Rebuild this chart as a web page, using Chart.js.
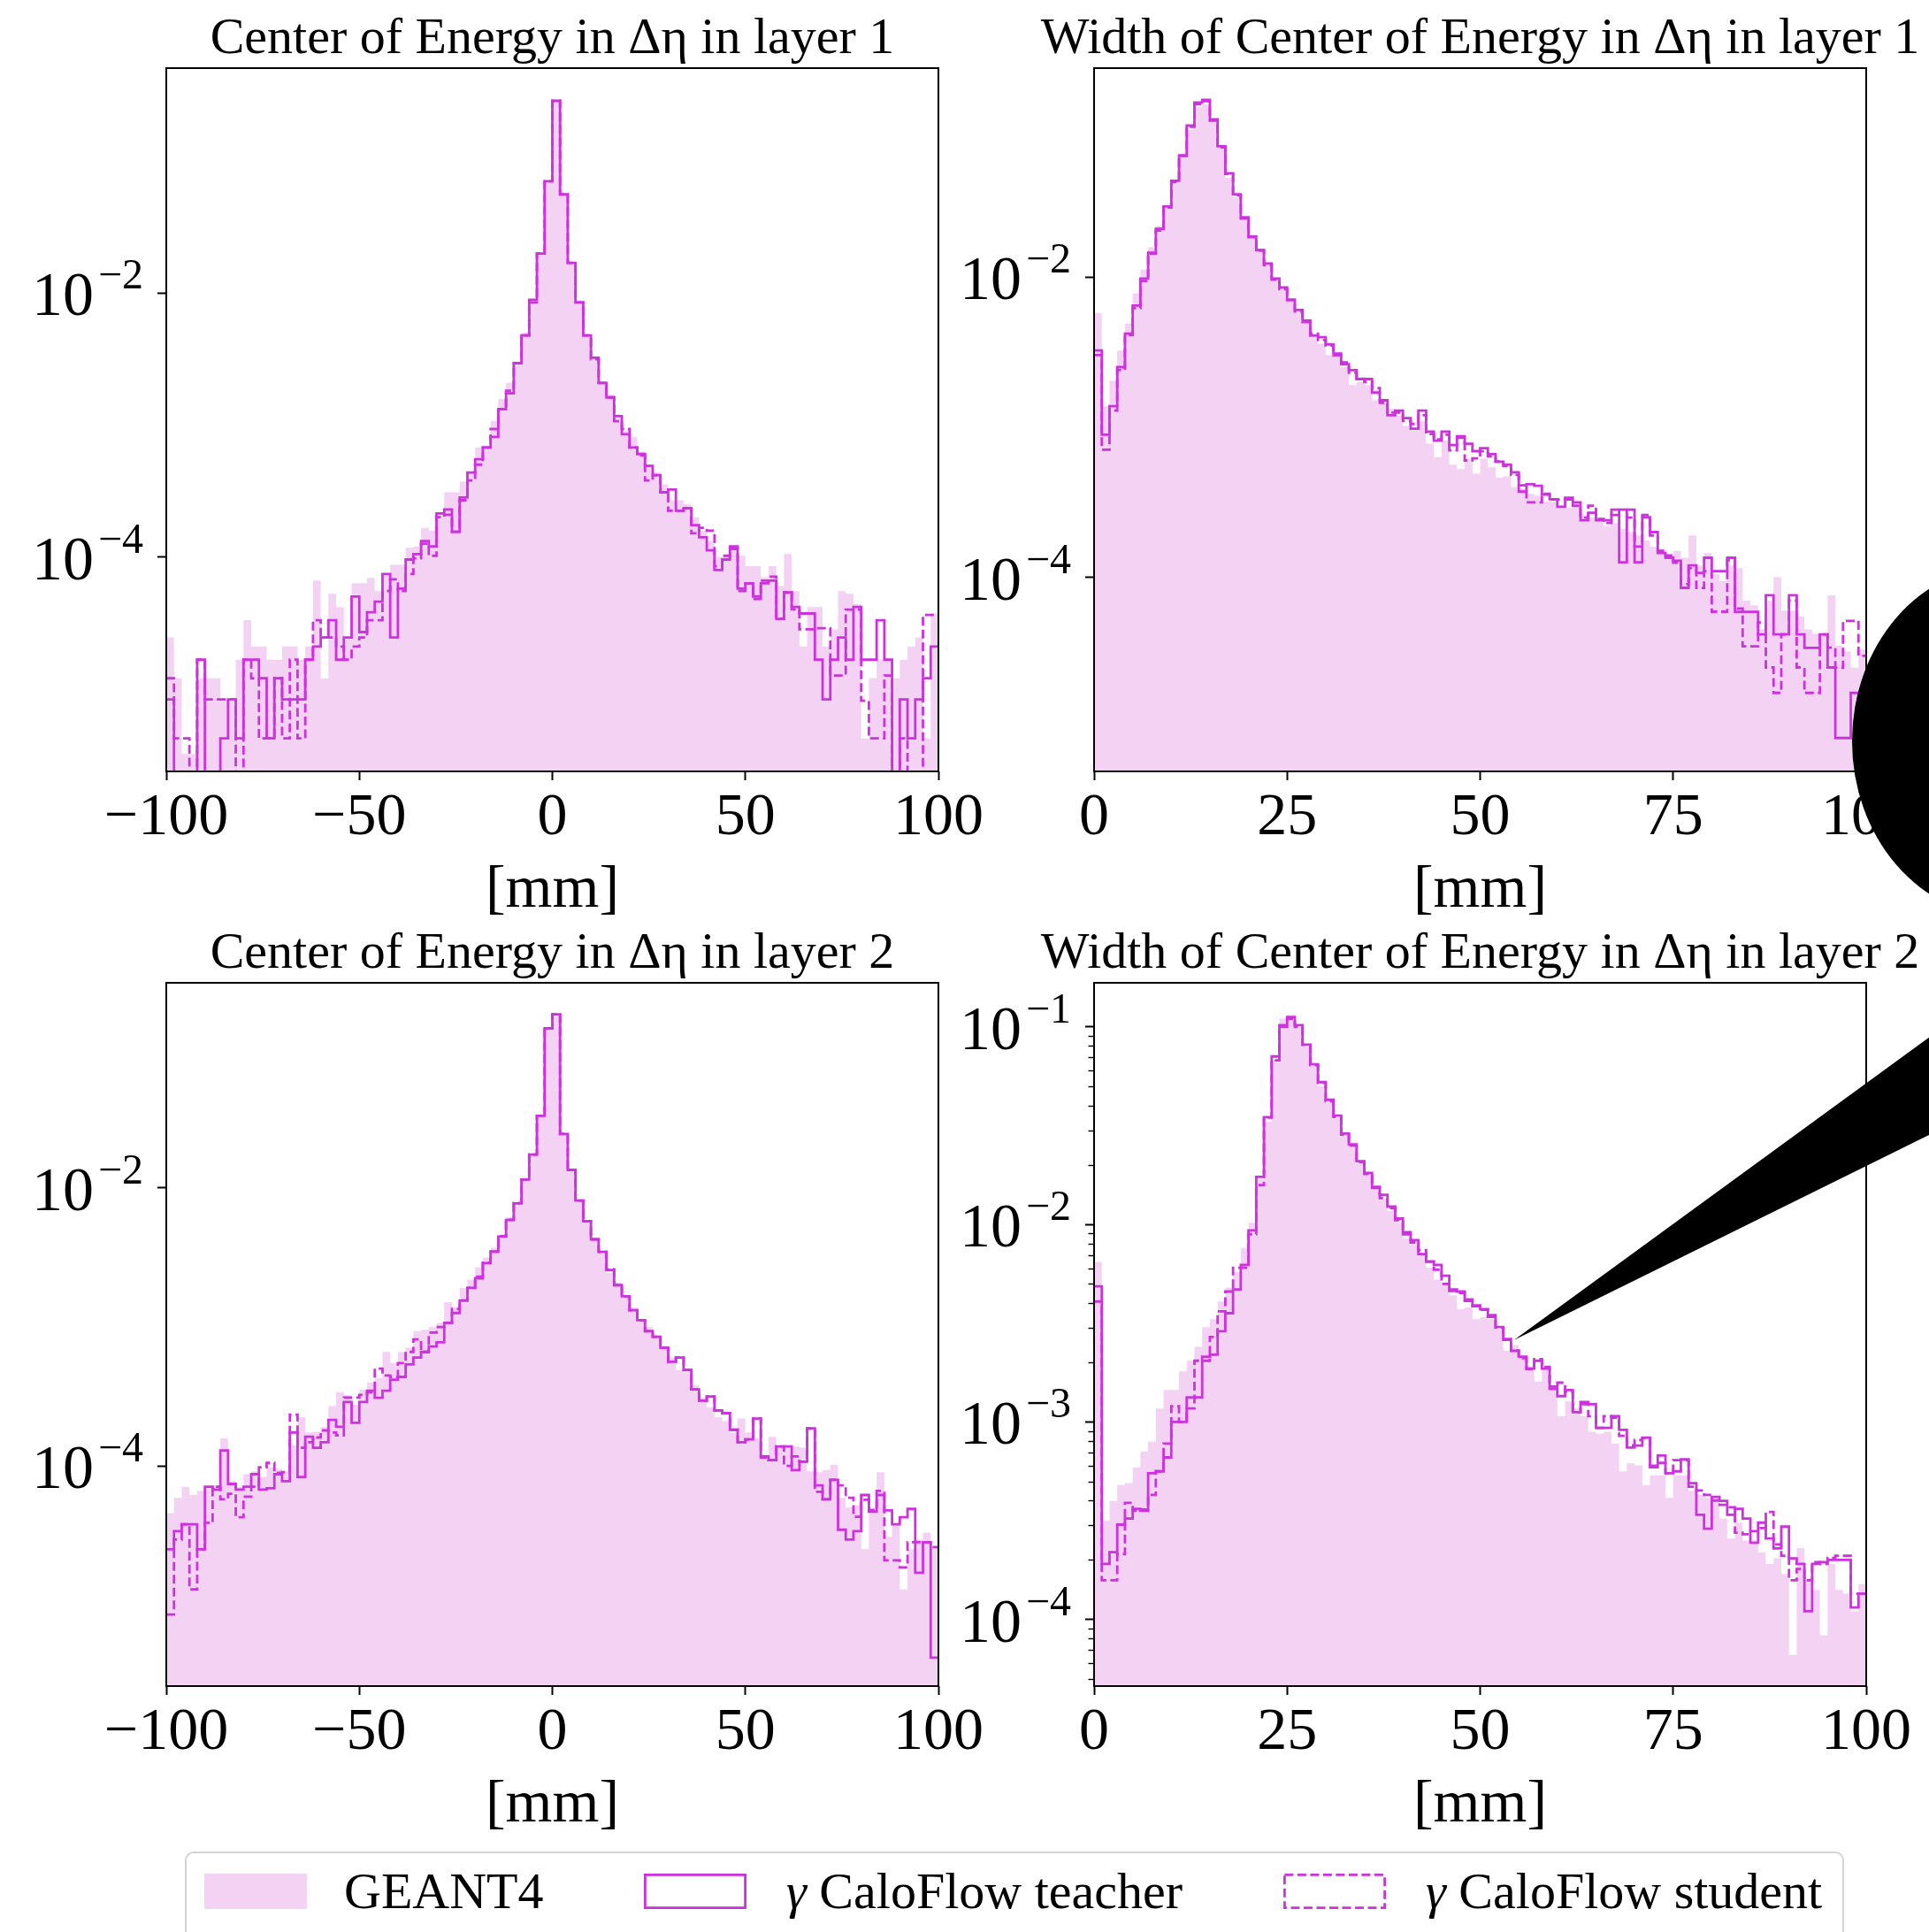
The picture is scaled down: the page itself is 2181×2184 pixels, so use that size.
<!DOCTYPE html>
<html>
<head>
<meta charset="utf-8">
<script src="https://cdn.jsdelivr.net/npm/chart.js@4.4.1/dist/chart.umd.min.js"></script>
<style>
  html, body { margin: 0; padding: 0; background: #fff; width: 2181px; height: 2184px; overflow: hidden; }
  canvas.panel { position: absolute; }
  #overlay { position: absolute; left: 0; top: 0; pointer-events: none; }
  #legend { position: absolute; left: 209px; top: 2093px; width: 1876px; height: 140px;
            border: 2px solid #d4d4d4; border-radius: 10px; box-sizing: border-box; background: #fff; }
  .ltext { position: absolute; font-family: 'Liberation Serif', 'Times New Roman', serif; font-size: 58px;
           line-height: 58px; white-space: nowrap; color: #000; }
  .lpatch { position: absolute; }
</style>
</head>
<body>
<canvas id="c1" class="panel"></canvas>
<canvas id="c2" class="panel"></canvas>
<canvas id="c3" class="panel"></canvas>
<canvas id="c4" class="panel"></canvas>
<div id="legend"></div>
<canvas id="overlay" width="2181" height="2184"></canvas>
<script>
// ---------------- data ----------------
const centerRange = [-100, 100];   // [mm], 100 bins
const widthRange = [0, 100];       // [mm], 100 bins
const nBins = 100;
const seriesNames = ['GEANT4', '\u03b3 CaloFlow teacher', '\u03b3 CaloFlow student'];
const panelTitles = [
  'Center of Energy in \u0394\u03b7 in layer 1',
  'Width of Center of Energy in \u0394\u03b7 in layer 1',
  'Center of Energy in \u0394\u03b7 in layer 2',
  'Width of Center of Energy in \u0394\u03b7 in layer 2'
];
const xAxisTitle = '[mm]';
const centerTicks = [-100, -50, 0, 50, 100];
const widthTicks = [0, 25, 50, 75, 100];
const majorsTwoDecades = [1e-4, 1e-2];
const majorsAllDecades = [1e-4, 1e-3, 1e-2, 1e-1];

// Center of Energy, layer 1
const coe1Geant4 = [
  2.45e-5, 1.2e-5, 3.2e-6, 3.2e-6, 1.2e-5, 1.2e-5, 1.2e-5, 8.3e-6, 8.3e-6, 1.66e-5,
  3.31e-5, 2.09e-5, 2.09e-5, 1.66e-5, 1.66e-5, 2.09e-5, 2.09e-5, 1.66e-5, 2.09e-5, 6.61e-5,
  1.2e-5, 5.25e-5, 4.17e-5, 2.45e-5, 6.31e-5, 6.31e-5, 6.92e-5, 5.5e-5, 7.41e-5, 8.71e-5,
  8.71e-5, 1.17e-4, 1.2e-4, 1.66e-4, 1.58e-4, 2.14e-4, 3.09e-4, 3.09e-4, 3.72e-4, 4.37e-4,
  6.76e-4, 6.76e-4, 1.07e-3, 1.58e-3, 2.09e-3, 2.95e-3, 5.01e-3, 8.91e-3, 2.0e-2, 7.08e-2,
  0.288, 5.62e-2, 1.70e-2, 8.51e-3, 4.79e-3, 3.24e-3, 2.09e-3, 1.7e-3, 1.2e-3, 9.0e-4,
  8.13e-4, 6.3e-4, 5.0e-4, 4.37e-4, 3.55e-4, 2.69e-4, 2.69e-4, 2.5e-4, 2.0e-4, 1.58e-4,
  1.32e-4, 1.0e-4, 1.02e-4, 1.2e-4, 1.02e-4, 8.51e-5, 8.51e-5, 7.0e-5, 8.51e-5, 6.0e-5,
  1.05e-4, 5.5e-5, 2.09e-5, 4.17e-5, 4.17e-5, 2.09e-5, 2.82e-5, 5.5e-5, 5.25e-5, 4.37e-5,
  4.2e-6, 1.2e-5, 1.66e-5, 1.66e-5, 1.2e-5, 1.66e-5, 2.09e-5, 2.45e-5, 4.2e-6, 3.72e-5
];
const coe1Teacher = [
  8.3e-6, 0, 0, 0, 1.66e-5, 0, 0, 4.2e-6, 8.3e-6, 4.2e-6,
  1.66e-5, 1.66e-5, 1.2e-5, 4.2e-6, 1.2e-5, 8.3e-6, 8.3e-6, 8.3e-6, 1.66e-5, 2.09e-5,
  2.45e-5, 3.31e-5, 1.66e-5, 2.45e-5, 5.0e-5, 2.69e-5, 3.8e-5, 4.57e-5, 7.41e-5, 2.45e-5,
  5.75e-5, 9.55e-5, 1.05e-4, 1.32e-4, 1.2e-4, 2.14e-4, 2.29e-4, 1.55e-4, 2.82e-4, 4.37e-4,
  5.5e-4, 6.76e-4, 8.13e-4, 1.32e-3, 1.74e-3, 2.95e-3, 4.79e-3, 8.91e-3, 2.0e-2, 7.08e-2,
  0.288, 5.62e-2, 1.70e-2, 8.51e-3, 4.79e-3, 3.24e-3, 2.09e-3, 1.62e-3, 1.17e-3, 8.51e-4,
  6.76e-4, 6.03e-4, 4.9e-4, 4.17e-4, 3.09e-4, 3.24e-4, 2.24e-4, 2.34e-4, 1.74e-4, 1.41e-4,
  1.12e-4, 7.94e-5, 9.55e-5, 1.2e-4, 5.75e-5, 6.31e-5, 5.01e-5, 6.31e-5, 6.61e-5, 3.39e-5,
  5.37e-5, 4.17e-5, 3.72e-5, 3.72e-5, 1.66e-5, 8.3e-6, 1.66e-5, 2.45e-5, 1.66e-5, 4.17e-5,
  1.66e-5, 1.66e-5, 3.31e-5, 1.66e-5, 0, 8.3e-6, 4.2e-6, 8.3e-6, 1.2e-5, 2.09e-5
];
const coe1Student = [
  1.2e-5, 4.2e-6, 4.2e-6, 0, 1.66e-5, 8.3e-6, 8.3e-6, 8.3e-6, 8.3e-6, 0,
  1.66e-5, 1.2e-5, 4.2e-6, 4.2e-6, 1.2e-5, 4.2e-6, 1.66e-5, 4.2e-6, 1.66e-5, 3.31e-5,
  2.45e-5, 2.45e-5, 2.09e-5, 1.66e-5, 2.09e-5, 2.45e-5, 3.31e-5, 3.31e-5, 5.5e-5, 6.76e-5,
  5.5e-5, 7.41e-5, 9.77e-5, 1.26e-4, 1.02e-4, 2.0e-4, 2.09e-4, 1.55e-4, 2.69e-4, 3.8e-4,
  5.01e-4, 6.76e-4, 9.33e-4, 1.32e-3, 1.82e-3, 2.95e-3, 4.79e-3, 8.51e-3, 2.0e-2, 7.08e-2,
  0.288, 5.62e-2, 1.70e-2, 8.51e-3, 4.79e-3, 3.16e-3, 2.09e-3, 1.62e-3, 1.07e-3, 9.33e-4,
  6.76e-4, 5.89e-4, 3.8e-4, 4.17e-4, 3.09e-4, 2.24e-4, 2.24e-4, 2.34e-4, 1.51e-4, 1.66e-4,
  1.58e-4, 8.5e-5, 1.02e-4, 1.15e-4, 5.5e-5, 6.3e-5, 4.8e-5, 6.6e-5, 7.08e-5, 3.39e-5,
  5.37e-5, 4.0e-5, 2.82e-5, 2.82e-5, 2.88e-5, 2.88e-5, 1.26e-5, 1.26e-5, 3.98e-5, 3.98e-5,
  8.1e-6, 4.2e-6, 4.2e-6, 1.26e-5, 0, 4.2e-6, 0, 0, 3.63e-5, 3.63e-5
];

// Width of Center of Energy, layer 1
const wid1Geant4 = [
  5.75e-3, 1.38e-3, 2.04e-3, 3.24e-3, 4.9e-3, 7.76e-3, 1.12e-2, 1.58e-2, 2.19e-2, 2.95e-2,
  4.37e-2, 6.46e-2, 9.55e-2, 0.136, 0.141, 0.112, 7.24e-2, 4.57e-2, 3.39e-2, 2.4e-2,
  1.82e-2, 1.5e-2, 1.2e-2, 9.5e-3, 8.3e-3, 6.9e-3, 5.9e-3, 4.9e-3, 3.9e-3, 3.6e-3,
  3.02e-3, 2.9e-3, 2.5e-3, 1.91e-3, 2.0e-3, 1.9e-3, 1.51e-3, 1.45e-3, 1.33e-3, 1.2e-3,
  1.02e-3, 9.5e-4, 1.1e-3, 7.76e-4, 6.31e-4, 8.13e-4, 5.62e-4, 5.25e-4, 6.17e-4, 4.9e-4,
  6.17e-4, 5.4e-4, 4.6e-4, 4.7e-4, 4.0e-4, 3.9e-4, 3.6e-4, 3.5e-4, 3.2e-4, 3.2e-4,
  3.0e-4, 2.9e-4, 3.0e-4, 2.6e-4, 2.5e-4, 2.4e-4, 2.2e-4, 2.3e-4, 2.1e-4, 2.0e-4,
  1.9e-4, 1.75e-4, 1.6e-4, 1.55e-4, 1.4e-4, 1.5e-4, 1.35e-4, 1.9e-4, 1.2e-4, 1.45e-4,
  1.05e-4, 9.5e-5, 1.2e-4, 1.15e-4, 7.0e-5, 6.5e-5, 4.5e-5, 7.0e-5, 1.0e-4, 6.0e-5,
  6.0e-5, 5.5e-5, 4.5e-5, 4.2e-5, 4.2e-5, 7.59e-5, 3.5e-5, 3.2e-5, 2.5e-5, 3.3e-5
];
const wid1Teacher = [
  3.24e-3, 8.91e-4, 1.38e-3, 2.51e-3, 4.2e-3, 6.46e-3, 9.77e-3, 1.45e-2, 2.09e-2, 2.95e-2,
  4.37e-2, 6.46e-2, 0.102, 0.145, 0.151, 0.112, 7.41e-2, 4.9e-2, 3.55e-2, 2.45e-2,
  1.86e-2, 1.51e-2, 1.23e-2, 9.77e-3, 8.51e-3, 7.08e-3, 6.03e-3, 5.13e-3, 4.07e-3, 3.98e-3,
  3.55e-3, 3.09e-3, 2.63e-3, 2.4e-3, 2.09e-3, 2.09e-3, 1.7e-3, 1.51e-3, 1.2e-3, 1.29e-3,
  1.15e-3, 9.77e-4, 1.29e-3, 9.33e-4, 8.13e-4, 9.33e-4, 7.59e-4, 8.71e-4, 7.76e-4, 6.92e-4,
  7.24e-4, 6.61e-4, 5.89e-4, 5.62e-4, 5.01e-4, 3.72e-4, 4.17e-4, 4.07e-4, 3.55e-4, 3.31e-4,
  2.95e-4, 3.39e-4, 3.16e-4, 2.4e-4, 2.69e-4, 2.4e-4, 2.4e-4, 2.82e-4, 1.26e-4, 2.82e-4,
  1.26e-4, 2.51e-4, 2.0e-4, 1.45e-4, 1.35e-4, 1.29e-4, 8.51e-5, 1.2e-4, 1.07e-4, 1.35e-4,
  1.1e-4, 1.1e-4, 1.35e-4, 5.89e-5, 5.89e-5, 5.89e-5, 4.17e-5, 7.59e-5, 4.17e-5, 4.17e-5,
  7.59e-5, 4.17e-5, 3.39e-5, 3.39e-5, 4.17e-5, 2.51e-5, 8.51e-6, 8.51e-6, 1.7e-5, 8.51e-6
];
const wid1Student = [
  3.02e-3, 7.08e-4, 1.29e-3, 2.4e-3, 4.1e-3, 6.2e-3, 9.4e-3, 1.43e-2, 2.04e-2, 2.9e-2,
  4.3e-2, 6.4e-2, 0.1, 0.142, 0.148, 0.11, 7.3e-2, 4.85e-2, 3.5e-2, 2.5e-2,
  1.84e-2, 1.5e-2, 1.2e-2, 9.6e-3, 8.3e-3, 7.0e-3, 5.9e-3, 5.0e-3, 4.2e-3, 3.8e-3,
  3.5e-3, 3.0e-3, 2.7e-3, 2.3e-3, 2.1e-3, 2.0e-3, 1.82e-3, 1.45e-3, 1.25e-3, 1.25e-3,
  1.1e-3, 1.05e-3, 1.2e-3, 9.0e-4, 8.3e-4, 8.9e-4, 7.0e-4, 8.5e-4, 6.0e-4, 6.2e-4,
  6.9e-4, 6.4e-4, 5.9e-4, 5.5e-4, 4.8e-4, 4.1e-4, 3.16e-4, 3.16e-4, 3.6e-4, 3.3e-4,
  3.3e-4, 3.3e-4, 3.0e-4, 2.5e-4, 3.0e-4, 2.45e-4, 2.3e-4, 2.6e-4, 2.82e-4, 2.5e-4,
  1.6e-4, 2.6e-4, 1.9e-4, 1.5e-4, 1.4e-4, 1.25e-4, 9.0e-5, 1.15e-4, 8.5e-5, 1.1e-4,
  5.9e-5, 5.9e-5, 1.3e-4, 6.2e-5, 3.47e-5, 3.47e-5, 5.0e-5, 2.51e-5, 1.7e-5, 4.17e-5,
  7.0e-5, 2.51e-5, 1.7e-5, 1.7e-5, 4.17e-5, 3.4e-5, 2.5e-5, 5.13e-5, 5.13e-5, 3.0e-5
];

// Center of Energy, layer 2
const coe2Geant4 = [
  4.57e-5, 5.89e-5, 7.08e-5, 6.17e-5, 6.61e-5, 7.08e-5, 7.24e-5, 1.58e-4, 7.76e-5, 7.08e-5,
  8.71e-5, 9.12e-5, 8.32e-5, 9.77e-5, 9.5e-5, 9.12e-5, 1.41e-4, 2.24e-4, 1.74e-4, 1.76e-4,
  1.91e-4, 2.69e-4, 3.39e-4, 3.24e-4, 2.75e-4, 3.55e-4, 3.98e-4, 4.27e-4, 6.61e-4, 5.5e-4,
  6.61e-4, 7.08e-4, 9.33e-4, 9.55e-4, 1.0e-3, 1.07e-3, 1.51e-3, 1.38e-3, 1.91e-3, 2.19e-3,
  2.69e-3, 3.16e-3, 3.72e-3, 4.37e-3, 6.17e-3, 7.9e-3, 1.16e-2, 1.74e-2, 3.31e-2, 0.141,
  0.178, 2.45e-2, 1.35e-2, 8.2e-3, 5.8e-3, 4.3e-3, 3.5e-3, 2.45e-3, 2.09e-3, 1.63e-3,
  1.38e-3, 1.1e-3, 1.0e-3, 8.71e-4, 7.08e-4, 6.03e-4, 4.9e-4, 4.8e-4, 3.8e-4, 3.09e-4,
  2.63e-4, 2.24e-4, 2.1e-4, 1.74e-4, 2.19e-4, 1.74e-4, 1.58e-4, 1.2e-4, 1.62e-4, 1.38e-4,
  1.41e-4, 1.38e-4, 1.35e-4, 9.12e-5, 9.0e-5, 9.3e-5, 1.02e-4, 5.89e-5, 5.01e-5, 5.2e-5,
  2.51e-5, 5.01e-5, 9.0e-5, 3.09e-5, 3.8e-5, 1.29e-5, 2.51e-5, 2.95e-5, 3.31e-5, 2.63e-5
];
const coe2Teacher = [
  2.51e-5, 3.39e-5, 3.8e-5, 3.8e-5, 2.51e-5, 7.08e-5, 6.76e-5, 1.29e-4, 7.41e-5, 6.76e-5,
  7.08e-5, 8.71e-5, 6.76e-5, 6.9e-5, 8.71e-5, 7.76e-5, 1.74e-4, 8.32e-5, 1.62e-4, 1.35e-4,
  1.48e-4, 2.14e-4, 1.91e-4, 2.88e-4, 2.04e-4, 2.88e-4, 3.47e-4, 3.09e-4, 3.47e-4, 4.17e-4,
  4.37e-4, 5.37e-4, 6.03e-4, 6.61e-4, 7.24e-4, 7.76e-4, 1.07e-3, 1.26e-3, 1.55e-3, 1.91e-3,
  2.24e-3, 2.88e-3, 3.47e-3, 4.47e-3, 5.89e-3, 7.76e-3, 1.15e-2, 1.74e-2, 3.31e-2, 0.141,
  0.178, 2.45e-2, 1.35e-2, 8.13e-3, 5.75e-3, 4.27e-3, 3.47e-3, 2.57e-3, 2.0e-3, 1.66e-3,
  1.32e-3, 1.12e-3, 9.33e-4, 8.51e-4, 7.08e-4, 5.62e-4, 6.03e-4, 4.9e-4, 3.55e-4, 2.95e-4,
  3.16e-4, 2.51e-4, 2.4e-4, 1.82e-4, 1.48e-4, 1.55e-4, 2.19e-4, 1.17e-4, 1.1e-4, 1.38e-4,
  1.38e-4, 9.33e-5, 1.07e-4, 1.86e-4, 7.24e-5, 5.75e-5, 7.94e-5, 3.47e-5, 2.95e-5, 3.39e-5,
  6.17e-5, 4.68e-5, 6.17e-5, 4.79e-5, 3.8e-5, 4.27e-5, 4.9e-5, 1.7e-5, 2.82e-5, 4.17e-6
];
const coe2Student = [
  8.51e-6, 2.95e-5, 3.8e-5, 1.29e-5, 2.51e-5, 3.89e-5, 7.08e-5, 5.75e-5, 6.3e-5, 4.27e-5,
  6.0e-5, 7.08e-5, 9.77e-5, 1.05e-4, 8.9e-5, 9.0e-5, 2.34e-4, 1.35e-4, 1.48e-4, 1.6e-4,
  1.8e-4, 1.74e-4, 1.66e-4, 3.1e-4, 3.1e-4, 3.24e-4, 3.39e-4, 5.01e-4, 4.47e-4, 4.37e-4,
  5.5e-4, 6.61e-4, 8.13e-4, 6.61e-4, 9.1e-4, 1.0e-3, 1.07e-3, 1.35e-3, 1.55e-3, 1.91e-3,
  2.3e-3, 2.9e-3, 3.5e-3, 4.5e-3, 5.9e-3, 7.8e-3, 1.15e-2, 1.74e-2, 3.31e-2, 0.141,
  0.178, 2.45e-2, 1.35e-2, 8.13e-3, 5.75e-3, 4.27e-3, 3.47e-3, 2.6e-3, 2.0e-3, 1.66e-3,
  1.32e-3, 1.12e-3, 9.33e-4, 8.51e-4, 7.08e-4, 5.62e-4, 6.03e-4, 4.9e-4, 3.55e-4, 2.95e-4,
  3.16e-4, 2.51e-4, 2.4e-4, 1.82e-4, 1.48e-4, 1.55e-4, 2.19e-4, 1.15e-4, 1.1e-4, 1.38e-4,
  1.0e-4, 1.17e-4, 1.07e-4, 1.86e-4, 6.5e-5, 5.75e-5, 7.94e-5, 7.24e-5, 5.9e-5, 4.3e-5,
  5.7e-5, 4.8e-5, 6.6e-5, 2.09e-5, 2.09e-5, 1.86e-5, 2.82e-5, 2.82e-5, 2.82e-5, 2.6e-5
];

// Width of Center of Energy, layer 2
const wid2Geant4 = [
  6.46e-3, 3.16e-4, 3.98e-4, 4.79e-4, 4.9e-4, 5.89e-4, 7.08e-4, 7.94e-4, 1.17e-3, 1.45e-3,
  1.45e-3, 1.8e-3, 2.04e-3, 2.4e-3, 3.02e-3, 3.31e-3, 4.07e-3, 4.79e-3, 5.75e-3, 7.59e-3,
  1.02e-2, 1.7e-2, 3.31e-2, 6.76e-2, 0.11, 0.11, 0.1, 7.94e-2, 6.31e-2, 5.01e-2,
  4.17e-2, 3.47e-2, 2.85e-2, 2.45e-2, 2.04e-2, 1.78e-2, 1.55e-2, 1.35e-2, 1.17e-2, 1.02e-2,
  8.51e-3, 7.94e-3, 7.08e-3, 6.03e-3, 5.25e-3, 5.01e-3, 4.37e-3, 3.72e-3, 3.8e-3, 3.31e-3,
  3.39e-3, 3.31e-3, 2.95e-3, 2.29e-3, 2.45e-3, 2.14e-3, 1.91e-3, 1.6e-3, 1.86e-3, 1.51e-3,
  1.07e-3, 1.27e-3, 1.17e-3, 1.07e-3, 8.91e-4, 8.71e-4, 8.91e-4, 7.76e-4, 5.62e-4, 6.17e-4,
  6.03e-4, 4.79e-4, 5.37e-4, 5.37e-4, 4.12e-4, 5.37e-4, 5.37e-4, 4.47e-4, 4.27e-4, 4.12e-4,
  4.12e-4, 3.24e-4, 2.57e-4, 3.09e-4, 2.51e-4, 2.45e-4, 2.19e-4, 1.91e-4, 2.04e-4, 1.7e-4,
  6.61e-5, 2.29e-4, 1.62e-4, 1.41e-4, 8.32e-5, 1.91e-4, 1.41e-4, 1.35e-4, 1.1e-4, 1.51e-4
];
const wid2Teacher = [
  4.86e-3, 1.91e-4, 2.19e-4, 3.02e-4, 3.24e-4, 3.63e-4, 3.55e-4, 5.5e-4, 5.62e-4, 6.61e-4,
  1.0e-3, 1.0e-3, 1.33e-3, 1.33e-3, 2.14e-3, 2.19e-3, 2.88e-3, 3.55e-3, 4.68e-3, 6.24e-3,
  9.33e-3, 1.74e-2, 3.49e-2, 7.08e-2, 0.102, 0.112, 0.102, 8.13e-2, 6.46e-2, 5.25e-2,
  4.27e-2, 3.55e-2, 2.88e-2, 2.54e-2, 2.09e-2, 1.82e-2, 1.55e-2, 1.41e-2, 1.23e-2, 1.07e-2,
  9.12e-3, 8.32e-3, 7.08e-3, 6.46e-3, 6.24e-3, 5.5e-3, 4.68e-3, 4.57e-3, 4.17e-3, 3.89e-3,
  3.72e-3, 3.47e-3, 3.02e-3, 2.63e-3, 2.29e-3, 2.14e-3, 1.86e-3, 2.04e-3, 1.86e-3, 1.51e-3,
  1.35e-3, 1.45e-3, 1.12e-3, 1.26e-3, 1.23e-3, 9.33e-4, 9.33e-4, 1.07e-3, 9.12e-4, 7.41e-4,
  7.59e-4, 8.32e-4, 5.89e-4, 6.76e-4, 5.5e-4, 5.62e-4, 6.46e-4, 4.9e-4, 3.39e-4, 2.88e-4,
  4.17e-4, 3.98e-4, 3.39e-4, 3.63e-4, 3.24e-4, 2.45e-4, 3.09e-4, 2.57e-4, 2.29e-4, 2.95e-4,
  2.04e-4, 1.91e-4, 1.1e-4, 1.91e-4, 1.95e-4, 2.0e-4, 2.0e-4, 2.0e-4, 1.15e-4, 1.35e-4
];
const wid2Student = [
  4.07e-3, 1.58e-4, 1.58e-4, 2.14e-4, 3.89e-4, 3.55e-4, 3.6e-4, 4.27e-4, 5.62e-4, 7.76e-4,
  1.2e-3, 1.0e-3, 1.17e-3, 2.04e-3, 2.04e-3, 2.69e-3, 3.63e-3, 4.57e-3, 6.03e-3, 6.03e-3,
  8.91e-3, 1.58e-2, 3.47e-2, 6.76e-2, 0.1, 0.11, 0.1, 8.1e-2, 6.4e-2, 5.2e-2,
  4.2e-2, 3.5e-2, 2.85e-2, 2.5e-2, 2.07e-2, 1.8e-2, 1.53e-2, 1.36e-2, 1.21e-2, 1.05e-2,
  8.9e-3, 8.1e-3, 7.4e-3, 6.5e-3, 5.9e-3, 5.0e-3, 4.6e-3, 4.5e-3, 4.1e-3, 3.85e-3,
  3.7e-3, 3.4e-3, 3.0e-3, 2.6e-3, 2.3e-3, 2.1e-3, 1.85e-3, 2.08e-3, 1.9e-3, 1.47e-3,
  1.58e-3, 1.42e-3, 1.12e-3, 1.23e-3, 1.07e-3, 9.33e-4, 1.07e-3, 1.05e-3, 8.5e-4, 7.6e-4,
  8.1e-4, 8.3e-4, 6.0e-4, 6.2e-4, 5.5e-4, 6.4e-4, 6.4e-4, 4.7e-4, 4.5e-4, 4.27e-4,
  4.0e-4, 3.8e-4, 3.7e-4, 2.75e-4, 2.7e-4, 2.8e-4, 2.9e-4, 3.5e-4, 2.4e-4, 2.1e-4,
  1.58e-4, 1.8e-4, 1.58e-4, 1.95e-4, 1.91e-4, 2.05e-4, 2.1e-4, 2.1e-4, 1.35e-4, 1.35e-4
];

// y-axis ranges
const coe1YRange = [2.36e-6, 0.51];
const wid1YRange = [5.1e-6, 0.246];
const coe2YRange = [2.6e-6, 0.30];
const wid2YRange = [4.6e-5, 0.167];

// ---------------- styling / layout ----------------
const FONT = "'Liberation Serif', 'Times New Roman', serif";
const lineColor = '#cc33dd';
const fillColor = '#f3d2f4';
const CANVAS_W = 1132, CANVAS_H = 1080;
const logFloor = 1e-12; // empty bins are drawn off the bottom of the log axis

function binEdges(range) {
  const w = (range[1] - range[0]) / nBins;
  return Array.from({length: nBins + 1}, (_, i) => range[0] + i * w);
}
function stepPoints(edges, values) {
  const pts = values.map((v, i) => ({x: edges[i], y: v > 0 ? v : logFloor}));
  const last = values[values.length - 1];
  pts.push({x: edges[edges.length - 1], y: last > 0 ? last : logFloor});
  return pts;
}
const minusFmt = v => (v < 0 ? '\u2212' + Math.abs(v) : String(v));

const framePlugin = {
  id: 'frame',
  afterDatasetsDraw(chart) {
    const {left, top, right, bottom} = chart.chartArea;
    const ctx = chart.ctx;
    ctx.save();
    ctx.strokeStyle = '#000';
    ctx.lineWidth = 2;
    ctx.strokeRect(left, top, right - left, bottom - top);
    ctx.restore();
  }
};

// panel title centred over the plotting area (no width squeezing)
const panelTitlePlugin = {
  id: 'panelTitle',
  afterDraw(chart, args, opts) {
    if (!opts || !opts.text) return;
    const {left, right} = chart.chartArea;
    const ctx = chart.ctx;
    ctx.save();
    ctx.fillStyle = '#000';
    ctx.font = '58px ' + FONT;
    ctx.textAlign = 'center';
    ctx.textBaseline = 'alphabetic';
    ctx.fillText(opts.text, (left + right) / 2, 60);
    ctx.restore();
  }
};

const yLabelPlugin = {
  id: 'yLabels',
  afterDraw(chart) {
    const s = chart.scales.y;
    const ctx = chart.ctx;
    const xr = chart.chartArea.left - 26;
    ctx.save();
    ctx.fillStyle = '#000';
    ctx.textAlign = 'left';
    ctx.textBaseline = 'alphabetic';
    s.ticks.forEach(t => {
      const ty = s.getPixelForValue(t.value);
      const e = Math.round(Math.log10(t.value));
      const expStr = (e < 0 ? '\u2212' : '') + Math.abs(e);
      ctx.font = '48px ' + FONT;
      const we = ctx.measureText(expStr).width;
      ctx.font = '70px ' + FONT;
      const wb = ctx.measureText('10').width;
      const x0 = xr - we - wb - 5;
      ctx.fillText('10', x0, ty + 25);
      ctx.font = '48px ' + FONT;
      ctx.fillText(expStr, x0 + wb + 5, ty - 5);
    });
    ctx.restore();
  }
};

const minorTickPlugin = {
  id: 'minorTicks',
  afterDraw(chart, args, opts) {
    if (!opts || !opts.enabled) return;
    const s = chart.scales.y;
    const ctx = chart.ctx;
    const x = chart.chartArea.left;
    ctx.save();
    ctx.strokeStyle = '#000';
    ctx.lineWidth = 1.4;
    for (let e = Math.floor(Math.log10(s.min)); e <= Math.ceil(Math.log10(s.max)); e++) {
      for (let m = 2; m <= 9; m++) {
        const v = m * Math.pow(10, e);
        if (v < s.min || v > s.max) continue;
        const y = Math.round(s.getPixelForValue(v)) + 0.5;
        ctx.beginPath();
        ctx.moveTo(x - 6.5, y);
        ctx.lineTo(x, y);
        ctx.stroke();
      }
    }
    ctx.restore();
  }
};

const panels = [
  {id: 'c1', left: 0,    top: 0,    title: panelTitles[0], xr: centerRange, xt: centerTicks, yr: coe1YRange, majors: majorsTwoDecades, minor: false, g: coe1Geant4, t: coe1Teacher, s: coe1Student},
  {id: 'c2', left: 1049, top: 0,    title: panelTitles[1], xr: widthRange,  xt: widthTicks,  yr: wid1YRange, majors: majorsTwoDecades, minor: false, g: wid1Geant4, t: wid1Teacher, s: wid1Student},
  {id: 'c3', left: 0,    top: 1034, title: panelTitles[2], xr: centerRange, xt: centerTicks, yr: coe2YRange, majors: majorsTwoDecades, minor: false, g: coe2Geant4, t: coe2Teacher, s: coe2Student},
  {id: 'c4', left: 1049, top: 1034, title: panelTitles[3], xr: widthRange,  xt: widthTicks,  yr: wid2YRange, majors: majorsAllDecades, minor: true,  g: wid2Geant4, t: wid2Teacher, s: wid2Student}
];

const charts = panels.map(p => {
  const cv = document.getElementById(p.id);
  cv.width = CANVAS_W; cv.height = CANVAS_H;
  cv.style.left = p.left + 'px'; cv.style.top = p.top + 'px';
  cv.style.width = CANVAS_W + 'px'; cv.style.height = CANVAS_H + 'px';
  const edges = binEdges(p.xr);
  const tickGrid = {display: true, drawOnChartArea: false, drawTicks: true, tickLength: 10, tickWidth: 2, tickColor: '#000'};
  return new Chart(cv, {
    type: 'line',
    data: {
      datasets: [
        {label: seriesNames[0], data: stepPoints(edges, p.g), stepped: true, fill: 'start',
         backgroundColor: fillColor, borderWidth: 0, borderColor: 'rgba(0,0,0,0)', pointRadius: 0, order: 3, clip: 0},
        {label: seriesNames[1], data: stepPoints(edges, p.t), stepped: true, fill: false,
         borderColor: lineColor, borderWidth: 2.8, pointRadius: 0, order: 2, clip: 0},
        {label: seriesNames[2], data: stepPoints(edges, p.s), stepped: true, fill: false,
         borderColor: lineColor, borderWidth: 2.8, borderDash: [10, 4.5], pointRadius: 0, order: 1, clip: 0}
      ]
    },
    options: {
      responsive: false, animation: false, devicePixelRatio: 1,
      events: [],
      layout: {padding: {left: 0, right: 71, top: 77, bottom: 8}},
      plugins: {
        legend: {display: false},
        tooltip: {enabled: false},
        title: {display: false},
        panelTitle: {text: p.title},
        minorTicks: {enabled: p.minor}
      },
      scales: {
        x: {
          type: 'linear', min: p.xr[0], max: p.xr[1],
          afterBuildTicks: s => { s.ticks = p.xt.map(v => ({value: v})); },
          afterFit: s => { s.height = 200; },
          ticks: {font: {family: FONT, size: 68}, color: '#000', padding: 2, maxRotation: 0, autoSkip: false,
                  callback: v => minusFmt(v)},
          grid: tickGrid, border: {display: false},
          title: {display: true, text: xAxisTitle, color: '#000', font: {family: FONT, size: 68, lineHeight: 1.2},
                  padding: {top: 0, bottom: 24}}
        },
        y: {
          type: 'logarithmic', min: p.yr[0], max: p.yr[1],
          afterBuildTicks: s => { s.ticks = p.majors.map(v => ({value: v, major: true})); },
          afterFit: s => { s.width = 188; },
          ticks: {display: false},
          grid: tickGrid, border: {display: false}
        }
      }
    },
    plugins: [framePlugin, panelTitlePlugin, yLabelPlugin, minorTickPlugin]
  });
});

// ---------------- legend (HTML) ----------------
const legend = document.getElementById('legend');
const LEG_X0 = 209, LEG_Y0 = 2093;
function addPatch(x, kind) {
  const w = 116, h = 40;
  const ns = 'http://www.w3.org/2000/svg';
  const svg = document.createElementNS(ns, 'svg');
  svg.setAttribute('width', w); svg.setAttribute('height', h);
  svg.setAttribute('class', 'lpatch');
  svg.style.left = (x - LEG_X0 - 2) + 'px'; svg.style.top = (2118 - LEG_Y0 - 2) + 'px';
  const r = document.createElementNS(ns, 'rect');
  if (kind === 'fill') {
    r.setAttribute('x', 0); r.setAttribute('y', 0); r.setAttribute('width', w); r.setAttribute('height', h);
    r.setAttribute('fill', fillColor);
  } else {
    r.setAttribute('x', 1.4); r.setAttribute('y', 1.4); r.setAttribute('width', w - 2.8); r.setAttribute('height', h - 2.8);
    r.setAttribute('fill', 'none'); r.setAttribute('stroke', lineColor); r.setAttribute('stroke-width', 2.8);
    if (kind === 'dash') r.setAttribute('stroke-dasharray', '10 4.5');
  }
  svg.appendChild(r);
  legend.appendChild(svg);
}
function addText(x, html) {
  const d = document.createElement('div');
  d.className = 'ltext';
  d.style.left = (x - LEG_X0 - 2) + 'px';
  d.style.top = (2109 - LEG_Y0 - 2) + 'px';
  d.innerHTML = html;
  legend.appendChild(d);
}
addPatch(231, 'fill');  addText(389, seriesNames[0]);
addPatch(728, 'solid'); addText(889, '<i>\u03b3</i> CaloFlow teacher');
addPatch(1451, 'dash'); addText(1612, '<i>\u03b3</i> CaloFlow student');

// ---------------- black call-out shape (annotation) ----------------
(function drawCallout() {
  const br = charts[3];
  const tipX = panels[3].left + br.scales.x.getPixelForValue(54.4);
  const tipY = panels[3].top + br.scales.y.getPixelForValue(2.6e-3);
  const ctx = document.getElementById('overlay').getContext('2d');
  ctx.fillStyle = '#000';
  ctx.beginPath();
  ctx.ellipse(2266, 838, 172, 198, 0, 0, Math.PI * 2);
  ctx.fill();
  ctx.beginPath();
  ctx.moveTo(tipX, tipY);
  ctx.lineTo(2400, tipY - 0.729 * (2400 - tipX));
  ctx.lineTo(2400, tipY - 0.494 * (2400 - tipX));
  ctx.closePath();
  ctx.fill();
})();
</script>
</body>
</html>
